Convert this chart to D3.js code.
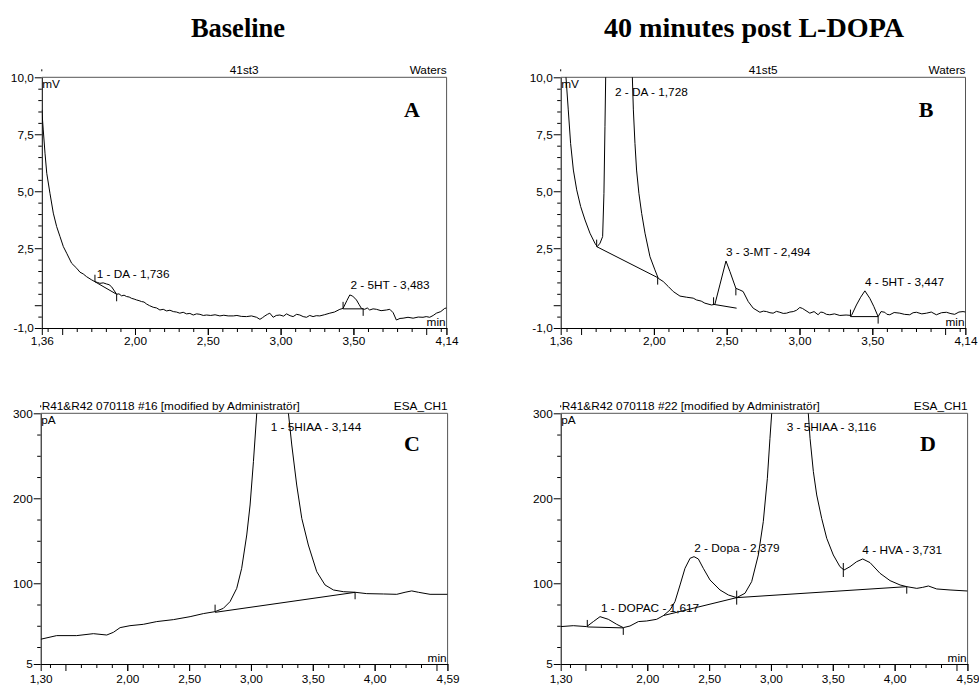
<!DOCTYPE html>
<html><head><meta charset="utf-8">
<script src="https://cdn.jsdelivr.net/npm/d3@7"></script>
<style>body{margin:0;background:#fff}svg{display:block}</style>
</head><body><svg id="c" width="979" height="687"></svg>
<script>
// ---------- data ----------
const columnTitles = ["Baseline", "40 minutes post L-DOPA"];
const panelLetters = ["A", "B", "C", "D"];
const headerLeft = ["41st3", "41st5", "R41&R42 070118 #16 [modified by Administratör]", "R41&R42 070118 #22 [modified by Administratör]"];
const headerRight = ["Waters", "Waters", "ESA_CH1", "ESA_CH1"];
const yUnits = ["mV", "mV", "pA", "pA"];

// mV axes (A, B)
const mvXDomain = [1.36, 4.14];
const mvXLabelTicks = [1.36, 2.0, 2.5, 3.0, 3.5, 4.14];
const mvXLabels = ["1,36", "2,00", "2,50", "3,00", "3,50", "4,14"];
const mvXMajorTicks = [1.5, 2.0, 2.5, 3.0, 3.5, 4.0];
const mvXMinorTicks = [1.4,1.6,1.7,1.8,1.9,2.1,2.2,2.3,2.4,2.6,2.7,2.8,2.9,3.1,3.2,3.3,3.4,3.6,3.7,3.8,3.9,4.1];
const mvYDomain = [-1, 10];
const mvYLabelTicks = [10, 7.5, 5, 2.5, 0, -1];
const mvYLabels = ["10,0", "7,5", "5,0", "2,5", "", "-1,0"];
const mvYMinorTicks = [9.5,9,8.5,8,7,6.5,6,5.5,4.5,4,3.5,3,2,1.5,1,0.5,-0.5];

// pA axes (C, D)
const paXDomain = [1.30, 4.59];
const paXLabelTicks = [1.30, 2.0, 2.5, 3.0, 3.5, 4.0, 4.59];
const paXLabels = ["1,30", "2,00", "2,50", "3,00", "3,50", "4,00", "4,59"];
const paXMajorTicks = [1.5, 2.0, 2.5, 3.0, 3.5, 4.0, 4.5];
const paXMinorTicks = [1.375,1.625,1.75,1.875,2.125,2.25,2.375,2.625,2.75,2.875,3.125,3.25,3.375,3.625,3.75,3.875,4.125,4.25,4.375];
const paYDomain = [5, 300];
const paYLabelTicks = [300, 200, 100, 5];
const paYLabels = ["300", "200", "100", "5"];
const paYMinorTicks = [275,250,225,175,150,125,75,50,25];

// A: baseline, Waters mV
const aTime = [1.360,1.370,1.382,1.394,1.416,1.439,1.462,1.485,1.508,1.531,1.565,1.600,1.622,1.645,1.668,1.700,1.725,1.742,1.759,1.782,1.805,1.822,1.839,1.874,1.890,1.908,1.925,1.942,1.960,1.977,1.994,2.011,2.028,2.045,2.062,2.080,2.100,2.125,2.148,2.171,2.194,2.217,2.240,2.263,2.285,2.308,2.331,2.354,2.377,2.400,2.423,2.446,2.469,2.492,2.520,2.550,2.583,2.610,2.640,2.675,2.700,2.730,2.766,2.800,2.835,2.858,2.875,2.892,2.910,2.926,2.949,2.970,2.995,3.020,3.041,3.065,3.086,3.110,3.132,3.155,3.178,3.200,3.223,3.245,3.269,3.300,3.338,3.370,3.407,3.429,3.455,3.475,3.495,3.521,3.540,3.555,3.578,3.595,3.612,3.635,3.658,3.690,3.727,3.750,3.773,3.795,3.820,3.841,3.875,3.910,3.945,3.978,4.000,4.024,4.048,4.070,4.100,4.127,4.140];
const aSignal = [8.57,7.69,6.67,5.79,4.91,4.04,3.45,3.01,2.57,2.28,1.84,1.62,1.45,1.37,1.25,1.12,1.03,1.00,0.96,0.98,0.93,0.90,0.81,0.48,0.50,0.41,0.44,0.38,0.36,0.30,0.27,0.23,0.20,0.16,0.14,0.05,-0.02,-0.09,-0.12,-0.21,-0.18,-0.25,-0.22,-0.28,-0.30,-0.35,-0.31,-0.38,-0.36,-0.43,-0.38,-0.40,-0.45,-0.43,-0.45,-0.42,-0.47,-0.44,-0.47,-0.47,-0.45,-0.49,-0.50,-0.47,-0.53,-0.62,-0.55,-0.47,-0.40,-0.35,-0.53,-0.45,-0.43,-0.48,-0.38,-0.46,-0.50,-0.40,-0.43,-0.50,-0.53,-0.45,-0.50,-0.46,-0.47,-0.42,-0.35,-0.30,-0.18,-0.14,0.20,0.45,0.40,0.23,0.02,-0.14,-0.18,-0.12,-0.21,-0.16,-0.18,-0.24,-0.21,-0.18,-0.33,-0.65,-0.58,-0.57,-0.53,-0.57,-0.52,-0.53,-0.50,-0.53,-0.45,-0.35,-0.28,-0.14,-0.12];
const aBaselines = [[1.725,1.03,1.874,0.48],[3.429,-0.16,3.567,-0.16]];
const aMarks = [[1.725,1.03,-1],[1.874,0.48,1],[3.429,-0.16,-1],[3.567,-0.16,1]];
const aPeakNames = ["1 - DA - 1,736", "2 - 5HT - 3,483"];
const aPeakTimes = [1.737, 3.480];
const aPeakLabelLevel = [1.21, 0.71];

// B: 40 min post L-DOPA, Waters mV
const bTime = [1.360,1.380,1.396,1.412,1.428,1.447,1.470,1.497,1.527,1.561,1.595,1.611,1.630,1.648,1.657,1.664,1.669,1.690,1.728,1.780,1.820,1.852,1.859,1.870,1.881,1.897,1.916,1.939,1.973,2.007,2.030,2.064,2.099,2.133,2.179,2.225,2.270,2.293,2.325,2.350,2.396,2.419,2.453,2.495,2.522,2.563,2.590,2.613,2.648,2.682,2.728,2.752,2.774,2.797,2.819,2.842,2.865,2.888,2.911,2.934,2.957,2.980,3.002,3.020,3.037,3.071,3.100,3.128,3.145,3.163,3.185,3.208,3.240,3.277,3.320,3.357,3.391,3.420,3.449,3.483,3.510,3.540,3.560,3.586,3.600,3.620,3.650,3.689,3.720,3.757,3.780,3.803,3.840,3.872,3.905,3.940,3.975,4.009,4.040,4.066,4.095,4.123,4.140];
const bSignal = [13.0,11.0,10.03,8.57,7.10,5.93,5.06,4.33,3.74,3.16,2.72,2.57,2.72,3.01,4.91,7.83,10.03,18,30,24,15,10.03,8.57,7.10,5.93,4.91,4.03,3.16,2.13,1.55,1.18,1.04,0.82,0.60,0.40,0.35,0.31,0.23,0.18,0.09,0.01,0.04,0.89,1.94,1.48,0.74,0.67,0.60,0.16,-0.13,-0.31,-0.26,-0.28,-0.33,-0.35,-0.27,-0.31,-0.36,-0.35,-0.30,-0.28,-0.22,-0.10,-0.14,-0.21,-0.35,-0.28,-0.42,-0.30,-0.32,-0.40,-0.42,-0.38,-0.45,-0.43,-0.45,0.01,0.35,0.63,0.30,-0.05,-0.50,-0.28,-0.31,-0.40,-0.42,-0.32,-0.35,-0.40,-0.42,-0.33,-0.31,-0.38,-0.35,-0.30,-0.42,-0.33,-0.31,-0.37,-0.40,-0.30,-0.28,-0.30];
const bBaselines = [[1.607,2.57,2.026,1.21],[2.408,0.04,2.568,-0.13],[3.35,-0.50,3.54,-0.50]];
const bMarks = [[1.607,2.57,-1],[2.026,1.21,1],[2.41,0.04,-1],[2.563,0.74,1],[3.35,-0.50,-1],[3.54,-0.50,1]];
const bPeakNames = ["2 - DA - 1,728", "3 - 3-MT - 2,494", "4 - 5HT - 3,447"];
const bPeakTimes = [1.733, 2.495, 3.449];
const bPeakLabelLevel = [9.19, 2.18, 0.86];

// C: baseline, ESA_CH1 pA
const cTime = [1.300,1.308,1.429,1.591,1.726,1.834,1.888,1.942,2.022,2.130,2.238,2.373,2.508,2.615,2.710,2.777,2.831,2.885,2.925,2.966,2.993,3.020,3.047,3.080,3.144,3.220,3.270,3.303,3.330,3.370,3.411,3.464,3.532,3.599,3.667,3.747,3.842,3.936,4.071,4.179,4.246,4.300,4.354,4.448,4.590];
const cSignal = [34.0,34.4,38.4,38.4,40.7,39.1,42.3,47.8,50.1,51.7,54.9,57.2,60.7,64.3,66.6,70.5,78.4,94.0,117.6,156.8,192.1,243.1,300,380,600,420,340,300,262.7,215.6,176.3,145.0,113.6,98.0,92.1,90.1,89.4,87.8,87.4,87.0,89.4,91.0,89.4,87.0,87.0];
const cBaselines = [[2.71,65.8,3.842,89.3]];
const cMarks = [[2.71,66.6,-1],[3.842,89.4,1]];
const cPeakNames = ["1 - 5HIAA - 3,144"];
const cPeakTimes = [3.160];
const cPeakLabelLevel = [279.5];

// D: 40 min post L-DOPA, ESA_CH1 pA
const dTime = [1.300,1.402,1.510,1.564,1.618,1.685,1.753,1.806,1.860,1.928,1.995,2.076,2.130,2.184,2.224,2.265,2.305,2.346,2.378,2.413,2.453,2.507,2.588,2.656,2.723,2.790,2.844,2.898,2.938,2.971,2.992,3.006,3.060,3.116,3.200,3.270,3.302,3.316,3.343,3.370,3.410,3.451,3.504,3.558,3.591,3.639,3.693,3.742,3.801,3.882,3.963,4.044,4.098,4.179,4.227,4.273,4.340,4.448,4.590];
const dSignal = [49.0,50.1,49.0,54.9,60.7,57.6,51.7,47.8,49.7,54.9,55.6,57.6,61.9,68.6,78.4,98.0,117.6,129.4,131.3,128.6,117.6,103.9,92.1,86.2,83.1,88.2,101.9,133.3,172.5,223.5,270.5,300,420,560,420,330,300,270.5,231.3,203.9,176.4,152.9,133.3,119.5,115.6,119.5,125.4,128.6,124.3,111.7,103.1,98.0,96.0,94.0,95.2,96.8,93.3,92.1,90.9];
const dBaselines = [[1.515,48.6,1.806,47.5],[2.13,62.0,2.723,83.1],[2.723,83.1,4.098,96.0]];
const dMarks = [[1.515,48.6,-1],[1.806,47.5,1],[2.723,83.1,0],[3.585,115.6,0],[4.098,96.0,1]];
const dPeakNames = ["1 - DOPAC - 1,617", "2 - Dopa - 2,379", "3 - 5HIAA - 3,116", "4 - HVA - 3,731"];
const dPeakTimes = [1.626, 2.380, 3.127, 3.739];
const dPeakLabelLevel = [66.2, 137.2, 279.5, 134.2];

// ---------- drawing ----------
const svg = d3.select("#c");
const FONT = "'Liberation Sans', Arial, sans-serif";
const SERIF = "'Liberation Serif', 'Times New Roman', serif";
const FS = 11.8;

svg.append("text").attr("x", 238).attr("y", 37).attr("text-anchor", "middle")
  .attr("font-family", SERIF).attr("font-weight", "bold").attr("font-size", 26.5).text(columnTitles[0]);
svg.append("text").attr("x", 754).attr("y", 37).attr("text-anchor", "middle")
  .attr("font-family", SERIF).attr("font-weight", "bold").attr("font-size", 26.5)
  .attr("textLength", 300).attr("lengthAdjust", "spacingAndGlyphs").text(columnTitles[1]);

const mvAxes = {xDomain: mvXDomain, xLabelTicks: mvXLabelTicks, xLabels: mvXLabels, xMajor: mvXMajorTicks, xMinor: mvXMinorTicks,
  yDomain: mvYDomain, yLabelTicks: mvYLabelTicks, yLabels: mvYLabels, yMinor: mvYMinorTicks, xPad: 2};
const paAxes = {xDomain: paXDomain, xLabelTicks: paXLabelTicks, xLabels: paXLabels, xMajor: paXMajorTicks, xMinor: paXMinorTicks,
  yDomain: paYDomain, yLabelTicks: paYLabelTicks, yLabels: paYLabels, yMinor: paYMinorTicks, xPad: 4};

const panels = [
  {i:0, ax: mvAxes, left: 41.8, right: 446.6, top: 77.3, bottom: 328, t: aTime, s: aSignal, base: aBaselines, marks: aMarks, names: aPeakNames, pt: aPeakTimes, pl: aPeakLabelLevel, letterX: 412, letterY: 117},
  {i:1, ax: mvAxes, left: 560.7, right: 965.5, top: 77.3, bottom: 328, t: bTime, s: bSignal, base: bBaselines, marks: bMarks, names: bPeakNames, pt: bPeakTimes, pl: bPeakLabelLevel, letterX: 926, letterY: 117},
  {i:2, ax: paAxes, left: 40.7, right: 447.6, top: 413.3, bottom: 664, t: cTime, s: cSignal, base: cBaselines, marks: cMarks, names: cPeakNames, pt: cPeakTimes, pl: cPeakLabelLevel, letterX: 412, letterY: 451},
  {i:3, ax: paAxes, left: 560.7, right: 967.6, top: 413.3, bottom: 664, t: dTime, s: dSignal, base: dBaselines, marks: dMarks, names: dPeakNames, pt: dPeakTimes, pl: dPeakLabelLevel, letterX: 928, letterY: 451}
];

function styleAxis(g) {
  g.attr("font-family", FONT).attr("font-size", FS);
  g.selectAll("text").attr("fill", "#000");
  g.selectAll("line").attr("stroke", "#000");
}

panels.forEach(p => {
  const ax = p.ax;
  const x = d3.scaleLinear().domain(ax.xDomain).range([p.left, p.right]);
  const y = d3.scaleLinear().domain(ax.yDomain).range([p.bottom, p.top]);
  const g = svg.append("g");

  const clipId = "clip" + p.i;
  svg.append("clipPath").attr("id", clipId).append("rect")
    .attr("x", p.left).attr("y", p.top).attr("width", p.right - p.left).attr("height", p.bottom - p.top);

  g.append("line").attr("x1", p.left).attr("x2", p.right).attr("y1", p.top).attr("y2", p.top).attr("stroke", "#555");
  g.append("line").attr("x1", p.right).attr("x2", p.right).attr("y1", p.top).attr("y2", p.bottom + 7).attr("stroke", "#555");
  g.append("line").attr("x1", p.left).attr("x2", p.left).attr("y1", p.top - 8).attr("y2", p.top - 6).attr("stroke", "#000");

  g.append("g").attr("transform", `translate(0,${p.bottom})`)
    .call(d3.axisBottom(x).tickValues(ax.xMinor).tickSize(4).tickSizeOuter(0).tickFormat(""))
    .call(styleAxis).call(s => s.select(".domain").remove());
  g.append("g").attr("transform", `translate(0,${p.bottom})`)
    .call(d3.axisBottom(x).tickValues(ax.xMajor).tickSize(7).tickSizeOuter(0).tickFormat(""))
    .call(styleAxis).call(s => s.select(".domain").remove());
  g.append("g").attr("transform", `translate(0,${p.bottom})`)
    .call(d3.axisBottom(x).tickValues(ax.xLabelTicks).tickSize(7).tickSizeOuter(0).tickPadding(ax.xPad)
      .tickFormat((d, k) => ax.xLabels[k]))
    .call(styleAxis).call(s => s.select(".domain").attr("stroke", "#000"));

  g.append("g").attr("transform", `translate(${p.left},0)`)
    .call(d3.axisLeft(y).tickValues(ax.yMinor).tickSize(3.5).tickSizeOuter(0).tickFormat(""))
    .call(styleAxis).call(s => s.select(".domain").remove());
  g.append("g").attr("transform", `translate(${p.left},0)`)
    .call(d3.axisLeft(y).tickValues(ax.yLabelTicks).tickSize(7).tickSizeOuter(0).tickPadding(1)
      .tickFormat((d, k) => ax.yLabels[k]))
    .call(styleAxis).call(s => s.select(".domain").attr("stroke", "#000"));

  g.append("text").attr("font-family", FONT).attr("font-size", FS)
    .attr("x", p.i < 2 ? (p.left + p.right) / 2 : p.left + 1).attr("y", p.top - 3)
    .attr("text-anchor", p.i < 2 ? "middle" : "start").text(headerLeft[p.i]);
  g.append("text").attr("font-family", FONT).attr("font-size", FS)
    .attr("x", p.right).attr("y", p.top - 3).attr("text-anchor", "end").text(headerRight[p.i]);
  g.append("text").attr("font-family", FONT).attr("font-size", FS)
    .attr("x", p.left + 0.5).attr("y", p.top + 11).text(yUnits[p.i]);
  g.append("text").attr("font-family", FONT).attr("font-size", FS)
    .attr("x", p.right - 1).attr("y", p.bottom - 2.5).attr("text-anchor", "end").text("min");

  g.append("text").attr("font-family", SERIF).attr("font-weight", "bold").attr("font-size", 22)
    .attr("x", p.letterX).attr("y", p.letterY).attr("text-anchor", "middle").text(panelLetters[p.i]);

  const pts = p.t.map((t, k) => [t, p.s[k]]);
  g.append("path").datum(pts).attr("clip-path", `url(#${clipId})`)
    .attr("fill", "none").attr("stroke", "#000").attr("stroke-width", 1)
    .attr("d", d3.line().x(d => x(d[0])).y(d => y(d[1])));

  g.selectAll(null).data(p.base).join("line")
    .attr("x1", d => x(d[0])).attr("y1", d => y(d[1])).attr("x2", d => x(d[2])).attr("y2", d => y(d[3]))
    .attr("stroke", "#000").attr("stroke-width", 1);

  g.selectAll(null).data(p.marks).join("line")
    .attr("x1", d => x(d[0])).attr("x2", d => x(d[0]))
    .attr("y1", d => d[2] === 0 ? y(d[1]) - 7 : y(d[1]))
    .attr("y2", d => d[2] === 0 ? y(d[1]) + 7 : y(d[1]) + 7 * d[2])
    .attr("stroke", "#000").attr("stroke-width", 1);

  g.selectAll(null).data(p.names).join("text")
    .attr("font-family", FONT).attr("font-size", FS)
    .attr("x", (d, k) => x(p.pt[k])).attr("y", (d, k) => y(p.pl[k]))
    .text(d => d);
});
</script>
</body></html>
